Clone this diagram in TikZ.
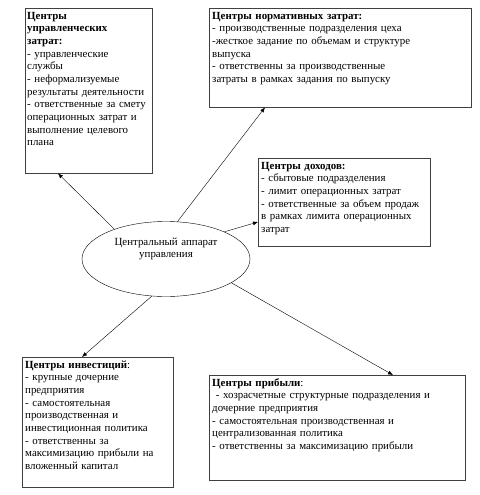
\documentclass[tikz,border=0pt]{standalone}
\usepackage{fontspec}
\setmainfont{Liberation Serif}
\usepackage{tikz}
\usetikzlibrary{arrows.meta, shapes.geometric}
\tikzset{centre/.style = {shape = ellipse, draw, inner sep = 2pt, minimum width = 168pt, minimum height = 75pt, text width = 108pt, align = center, text height = 7pt, text depth = 35pt, font = \fontsize{10.9}{12.65}\selectfont}}
\tikzset{box/.style = {draw = black!75, anchor = north west, align = left, inner xsep = 3pt, inner ysep = 4pt, text height = 7pt, font = \fontsize{10.9}{12.65}\selectfont}}
\tikzset{edge/.style = {-{Latex[length = 5pt, width = 4pt]}, thin}}

\begin{document}
\begin{tikzpicture}[x = 1pt, y = -1pt]
				\useasboundingbox (0, 0) rectangle (479, 495);

				\node[centre] (c) at (166, 259) {Центральный аппарат\\управления};

				\node[box, inner xsep = 2pt, text width = 123pt, text depth = 150pt] (b1) at (25, 8)
					{\textbf{Центры}\\\textbf{управленческих}\\\textbf{затрат:}\\- управленческие\\службы\\- неформализуемые\\результаты деятельности\\- ответственные за смету\\операционных затрат и\\выполнение целевого\\плана};
				\node[box, text width = 256pt, text depth = 84pt] (b2) at (209, 8)
					{\textbf{Центры нормативных затрат:}\\- производственные подразделения цеха\\-жесткое задание по объемам и структуре\\выпуска\\- ответственны за производственные\\затраты в рамках задания по выпуску};
				\node[box, text width = 166pt, text depth = 73pt] (b3) at (258, 158)
					{\textbf{Центры доходов:}\\- сбытовые подразделения\\- лимит операционных затрат\\- ответственные за объем продаж\\в рамках лимита операционных\\затрат};
				\node[box, text width = 145pt, text depth = 115pt] (b4) at (22, 357)
					{\textbf{Центры инвестиций}:\\- крупные дочерние\\предприятия\\- самостоятельная\\производственная и\\инвестиционная политика\\- ответственны за\\максимизацию прибыли на\\вложенный капитал};
				\node[box, text width = 250pt, text depth = 90pt] (b5) at (209, 375)
					{\textbf{Центры прибыли}:\\\ - хозрасчетные структурные подразделения и\\дочерние предприятия\\- самостоятельная производственная и\\централизованная политика\\- ответственны за максимизацию прибыли};

				\draw[edge] (c.150) to ([xshift = 33pt]b1.south west);
				\draw[edge] (c.73) to ([xshift = 56pt]b2.south west);
				\draw[edge] (c.25) to ([yshift = -64pt]b3.north west);
				\draw[edge] (c.249) to ([xshift = 60pt]b4.north west);
				\draw[edge] (c.340) to ([xshift = 184pt]b5.north west);
			\end{tikzpicture}
\end{document}
